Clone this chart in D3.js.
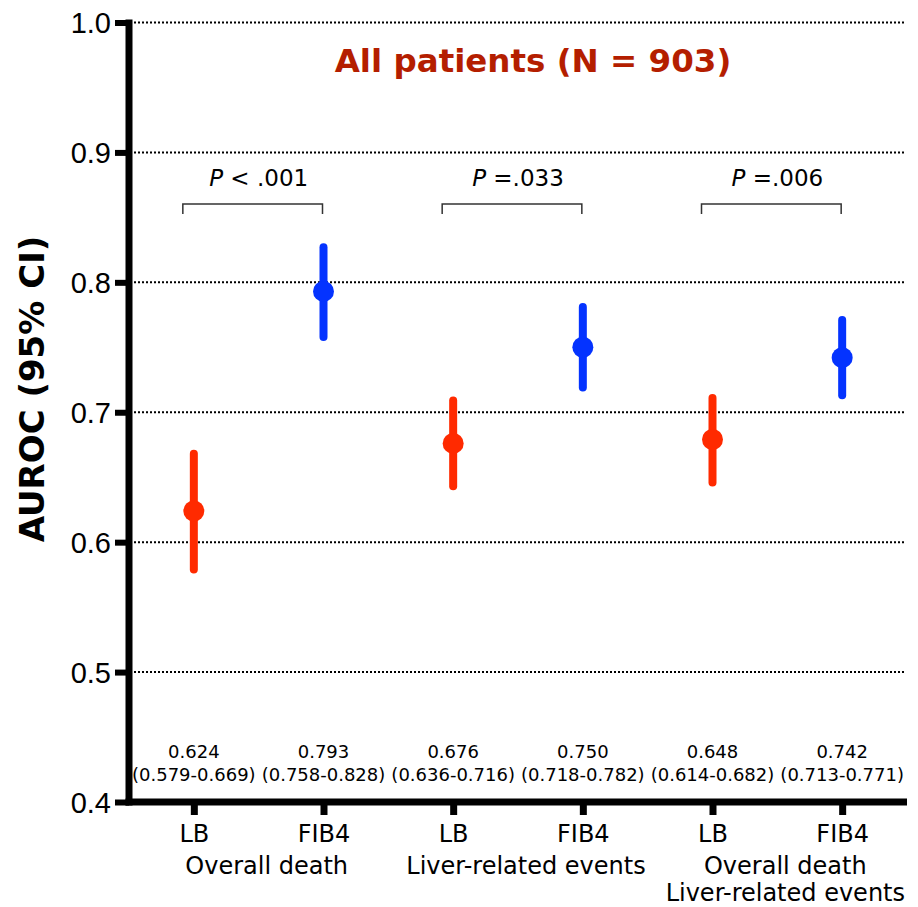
<!DOCTYPE html>
<html>
<head>
<meta charset="utf-8">
<script src="https://cdn.jsdelivr.net/npm/d3@7"></script>
<style>
  body { margin: 0; background: #fff; }
  svg { display: block; }
</style>
</head>
<body>
<svg id="chart"></svg>
<script>
// Data
var keys = ['LB1', 'FIB1', 'LB2', 'FIB2', 'LB3', 'FIB3']
var markers = ['LB', 'FIB4', 'LB', 'FIB4', 'LB', 'FIB4']
var outcomes = [['Overall death'], ['Liver-related events'], ['Overall death', 'Liver-related events']]
var auroc = [0.624, 0.793, 0.676, 0.750, 0.679, 0.742]
var ciLow = [0.579, 0.758, 0.643, 0.719, 0.646, 0.713]
var ciHigh = [0.668, 0.827, 0.709, 0.781, 0.711, 0.771]
var aucText = ['0.624', '0.793', '0.676', '0.750', '0.648', '0.742']
var ciText = ['(0.579-0.669)', '(0.758-0.828)', '(0.636-0.716)', '(0.718-0.782)', '(0.614-0.682)', '(0.713-0.771)']
var pText = ['< .001', '=.033', '=.006']
var yTicks = [0.4, 0.5, 0.6, 0.7, 0.8, 0.9, 1.0]

var width = 918,
    height = 907
var red = '#ff2a00',
    blue = '#0433ff'
var font = '"DejaVu Sans", Verdana, sans-serif'

var svg = d3.select('#chart')
  .attr('width', width)
  .attr('height', height)

var x = d3.scalePoint().domain(keys).range([129, 907]).padding(0.5)
var y = d3.scaleLinear().domain([0.4, 1.0]).range([802, 22.5])

// Dotted gridlines
svg.append('g')
  .selectAll('line')
  .data(yTicks.slice(1))
  .enter()
  .append('line')
  .attr('x1', 134)
  .attr('x2', 905)
  .attr('y1', function (d) { return y(d) })
  .attr('y2', function (d) { return y(d) })
  .attr('stroke', '#000')
  .attr('stroke-width', 2)
  .attr('stroke-dasharray', '2,2')

// Y axis
var yAxis = svg.append('g')
  .attr('transform', 'translate(129,0)')
  .call(d3.axisLeft(y).tickValues(yTicks).tickFormat(d3.format('.1f')).tickSize(14).tickPadding(4))
yAxis.select('.domain').remove()
yAxis.selectAll('.tick line').attr('stroke', '#000').attr('stroke-width', 6)
yAxis.selectAll('.tick text')
  .attr('fill', '#000')
  .attr('font-family', '"Liberation Sans", Arial, sans-serif')
  .attr('font-size', 29)
  .attr('dy', '0.35em')
yAxis.append('line')
  .attr('x1', 0).attr('x2', 0)
  .attr('y1', y(1.0) - 3).attr('y2', y(0.4) + 3.5)
  .attr('stroke', '#000').attr('stroke-width', 7)

// X axis
var xAxis = svg.append('g')
  .attr('transform', 'translate(0,' + y(0.4) + ')')
  .call(d3.axisBottom(x).tickSize(13).tickPadding(10).tickFormat(function (d, i) { return markers[i] }))
xAxis.select('.domain').remove()
xAxis.selectAll('.tick line').attr('stroke', '#000').attr('stroke-width', 7)
xAxis.selectAll('.tick text')
  .attr('fill', '#000')
  .attr('font-family', font)
  .attr('font-size', 24)
xAxis.append('line')
  .attr('x1', 125.5).attr('x2', 907)
  .attr('y1', 0).attr('y2', 0)
  .attr('stroke', '#000').attr('stroke-width', 7)

// Outcome labels under each pair
outcomes.forEach(function (lines, g) {
  var cx = (x(keys[g * 2]) + x(keys[g * 2 + 1])) / 2 + 8
  var t = svg.append('text')
    .attr('x', cx)
    .attr('y', 874)
    .attr('text-anchor', 'middle')
    .attr('font-family', font)
    .attr('font-size', 24)
  lines.forEach(function (s, j) {
    t.append('tspan').attr('x', cx).attr('dy', j ? 27 : 0).text(s)
  })
})

// AUROC value labels
var labels = svg.append('g')
  .attr('font-family', font)
  .attr('font-size', 18)
  .attr('text-anchor', 'middle')
labels.selectAll('text.auc')
  .data(keys)
  .enter()
  .append('text')
  .attr('x', function (d) { return x(d) })
  .attr('y', 758)
  .text(function (d, i) { return aucText[i] })
labels.selectAll('text.ci')
  .data(keys)
  .enter()
  .append('text')
  .attr('x', function (d) { return x(d) })
  .attr('y', 781)
  .text(function (d, i) { return ciText[i] })

// Error bars and points
var marks = svg.append('g')
  .selectAll('g')
  .data(keys)
  .enter()
  .append('g')
marks.append('line')
  .attr('x1', function (d) { return x(d) })
  .attr('x2', function (d) { return x(d) })
  .attr('y1', function (d, i) { return y(ciLow[i]) })
  .attr('y2', function (d, i) { return y(ciHigh[i]) })
  .attr('stroke', function (d, i) { return i % 2 ? blue : red })
  .attr('stroke-width', 8)
  .attr('stroke-linecap', 'round')
marks.append('circle')
  .attr('cx', function (d) { return x(d) })
  .attr('cy', function (d, i) { return y(auroc[i]) })
  .attr('r', 10.5)
  .attr('fill', function (d, i) { return i % 2 ? blue : red })

// Significance brackets
pText.forEach(function (p, g) {
  var x0 = x(keys[g * 2]) - 11,
      x1 = x(keys[g * 2 + 1]) - 1
  svg.append('path')
    .attr('d', 'M' + x0 + ',214V204H' + x1 + 'V214')
    .attr('fill', 'none')
    .attr('stroke', '#333')
    .attr('stroke-width', 1.5)
  var t = svg.append('text')
    .attr('x', (x(keys[g * 2]) + x(keys[g * 2 + 1])) / 2)
    .attr('y', 186)
    .attr('text-anchor', 'middle')
    .attr('font-family', font)
    .attr('font-size', 23)
  t.append('tspan').attr('font-style', 'italic').text('P')
  t.append('tspan').text(' ' + p)
})

// Title
svg.append('text')
  .attr('x', 533)
  .attr('y', 72)
  .attr('text-anchor', 'middle')
  .attr('font-family', font)
  .attr('font-weight', 'bold')
  .attr('font-size', 32.5)
  .attr('fill', '#b41e00')
  .text('All patients (N = 903)')

// Y axis title
svg.append('text')
  .attr('transform', 'translate(44,389) rotate(-90)')
  .attr('text-anchor', 'middle')
  .attr('font-family', font)
  .attr('font-weight', 'bold')
  .attr('font-size', 34)
  .attr('fill', '#000')
  .text('AUROC (95% CI)')
</script>
</body>
</html>
